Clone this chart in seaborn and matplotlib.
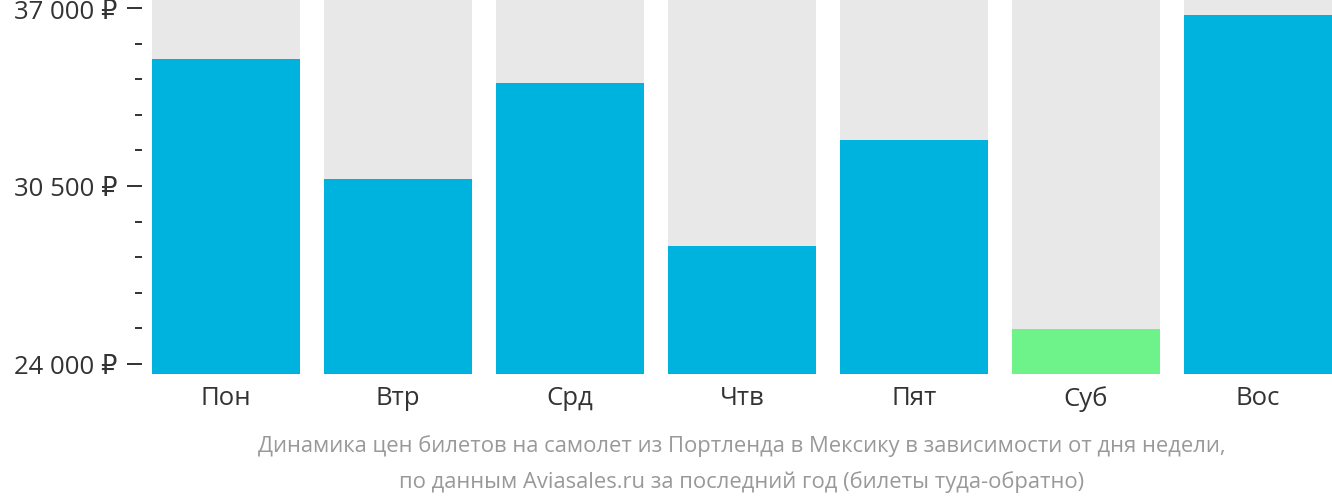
import matplotlib
matplotlib.use("Agg")
import matplotlib.pyplot as plt
import seaborn as sns
import pandas as pd
from matplotlib.ticker import FixedLocator, FuncFormatter

days = ["Пон", "Втр", "Срд", "Чтв", "Пят", "Суб", "Вос"]
prices = [35130, 30760, 34250, 28300, 32190, 25290, 36740]
bar_colors = ["#00b2de", "#00b2de", "#00b2de", "#00b2de", "#00b2de", "#6ef28a", "#00b2de"]
y_ticks = [24000, 30500, 37000]
y_minor_ticks = [25300, 26600, 27900, 29200, 31800, 33100, 34400, 35700]
caption = ["Динамика цен билетов на самолет из Портленда в Мексику в зависимости от дня недели,",
           "по данным Aviasales.ru за последний год (билеты туда-обратно)"]

y_min, y_max = 23630, 37330

sns.set_theme(style="white")
plt.rcParams['font.family'] = ['Open Sans', 'DejaVu Sans']

fig = plt.figure(figsize=(13.32, 5.02), dpi=100)
ax = fig.add_axes([152/1332, 127/502, 1 - 152/1332, 1 - 127/502])

df = pd.DataFrame({"day": days, "price": prices, "bg": [y_max] * len(days)})

sns.barplot(data=df, x="day", y="bg", color="#e8e8e8", width=0.86,
            saturation=1, linewidth=0, ax=ax, zorder=1)
sns.barplot(data=df, x="day", y="price", hue="day", palette=bar_colors,
            width=0.86, saturation=1, linewidth=0, legend=False, ax=ax, zorder=2)

ax.set_ylim(y_min, y_max)
ax.set_xlim(-0.43, len(days) - 0.57)
ax.set_xlabel("")
ax.set_ylabel("")
for s in ax.spines.values():
    s.set_visible(False)

ax.set_yticks(y_ticks)
ax.yaxis.set_minor_locator(FixedLocator(y_minor_ticks))
ax.yaxis.set_major_formatter(FuncFormatter(lambda v, p: f"{int(v):,}".replace(",", " ") + " ₽"))
ax.spines['left'].set_position(('outward', 7))
ax.tick_params(axis='y', which='major', length=11, width=1.3, color="#222222",
               labelsize=18.5, labelcolor="#333333", pad=7, left=True, direction='out')
ax.tick_params(axis='y', which='minor', length=5, width=1.3, color="#222222", left=True,
               direction='out')
ax.tick_params(axis='x', length=0, labelsize=18.5, labelcolor="#333333", pad=8)

fig.text((152 + 1332) / 2 / 1332, 1 - 446/502, caption[0], ha="center", va="center",
         fontsize=15.8, color="#999999")
fig.text((152 + 1332) / 2 / 1332, 1 - 482/502, caption[1], ha="center", va="center",
         fontsize=15.8, color="#999999")

fig.savefig("out.png", dpi=100)
